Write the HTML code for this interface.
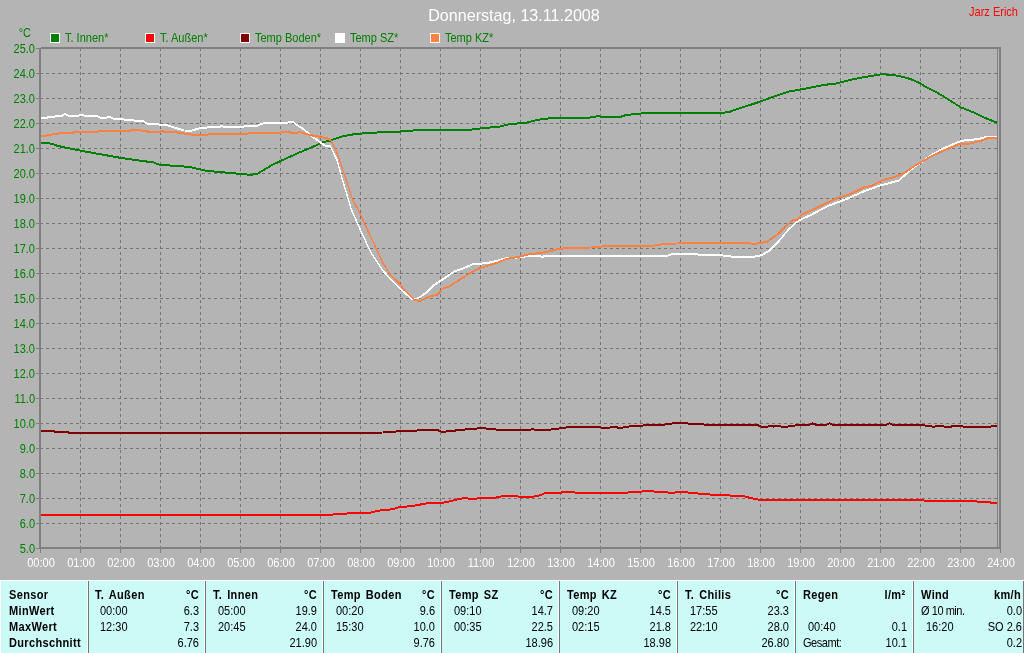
<!DOCTYPE html>
<html lang="de"><head><meta charset="utf-8"><title>Donnerstag, 13.11.2008</title>
<style>
html,body{margin:0;padding:0;}
body{width:1024px;height:653px;overflow:hidden;background:#b4b4b4;position:relative;font-family:"Liberation Sans",Arial,sans-serif;font-size:11px;line-height:13px;}
#chart{position:absolute;left:0;top:0;}
.t{position:absolute;white-space:nowrap;transform:scaleY(1.125);transform-origin:0 10px;}
.title{transform:none;left:0;width:1028px;text-align:center;top:5.5px;font-size:16.1px;line-height:19px;color:#fff;}
.author{right:6px;top:6px;color:#ff0000;}
.yl{left:0;width:35px;text-align:right;color:#008000;}
.xl{width:40px;text-align:center;color:#fff;top:557px;}
.lg{color:#008000;top:32px;}
.lb{position:absolute;top:33px;width:8px;height:8px;border:1px solid #fff;}
#tbl{position:absolute;left:0;top:580px;width:1024px;height:73px;background:#ccfaf6;border-top:1px solid #fff;border-left:1px solid #fff;box-sizing:border-box;overflow:hidden;}
.sep{position:absolute;top:0;width:1px;height:73px;background:#747474;border-left:1px solid #f4ffff;}
.c{position:absolute;white-space:nowrap;color:#000;transform:scaleY(1.125);transform-origin:0 10px;}
.b{font-weight:bold;letter-spacing:0.35px;word-spacing:1.5px;}
.r{text-align:right;}
</style></head><body>

<svg id="chart" width="1024" height="580" viewBox="0 0 1024 580">
<path d="M80.5 49V547M120.5 49V547M160.5 49V547M200.5 49V547M240.5 49V547M280.5 49V547M320.5 49V547M360.5 49V547M400.5 49V547M440.5 49V547M480.5 49V547M520.5 49V547M560.5 49V547M600.5 49V547M640.5 49V547M680.5 49V547M720.5 49V547M760.5 49V547M800.5 49V547M840.5 49V547M880.5 49V547M920.5 49V547M960.5 49V547M41 73.5H997M41 98.5H997M41 123.5H997M41 148.5H997M41 173.5H997M41 198.5H997M41 223.5H997M41 248.5H997M41 273.5H997M41 298.5H997M41 323.5H997M41 348.5H997M41 373.5H997M41 398.5H997M41 423.5H997M41 448.5H997M41 473.5H997M41 498.5H997M41 523.5H997" stroke="#747474" stroke-width="1" stroke-dasharray="3 3" stroke-dashoffset="1" fill="none" shape-rendering="crispEdges"/>
<path d="M40.5 549V553M80.5 549V553M120.5 549V553M160.5 549V553M200.5 549V553M240.5 549V553M280.5 549V553M320.5 549V553M360.5 549V553M400.5 549V553M440.5 549V553M480.5 549V553M520.5 549V553M560.5 549V553M600.5 549V553M640.5 549V553M680.5 549V553M720.5 549V553M760.5 549V553M800.5 549V553M840.5 549V553M880.5 549V553M920.5 549V553M960.5 549V553M1000.5 549V553M36 48.5H41M36 73.5H41M36 98.5H41M36 123.5H41M36 148.5H41M36 173.5H41M36 198.5H41M36 223.5H41M36 248.5H41M36 273.5H41M36 298.5H41M36 323.5H41M36 348.5H41M36 373.5H41M36 398.5H41M36 423.5H41M36 448.5H41M36 473.5H41M36 498.5H41M36 523.5H41M36 548.5H41" stroke="#808080" stroke-width="1" fill="none" shape-rendering="crispEdges"/>
<polyline points="40.0,142.0 51.8,143.2 57.6,145.4 79.2,149.9 122.4,157.7 153.7,162.0 159.6,164.2 189.0,166.4 206.7,170.3 240.0,173.4 245.9,173.8 249.8,174.6 257.6,173.2 269.4,166.0 279.2,161.1 298.8,152.2 318.4,144.0 323.3,141.5 330.2,140.1 342.0,136.0 355.7,133.4 377.3,132.0 396.9,131.3 416.5,129.7 440.0,129.3 469.4,129.3 483.1,127.7 498.8,126.2 510.6,123.4 524.3,122.6 538.0,119.3 545.9,118.1 557.6,117.5 589.0,117.1 598.8,115.6 601.8,116.6 620.4,116.4 626.3,114.4 640.0,113.3 643.9,112.4 722.4,112.4 730.2,111.1 742.0,107.1 757.6,102.0 777.3,94.8 789.0,91.1 808.6,87.5 824.3,84.4 835.8,83.0 847.5,80.1 859.3,77.5 871.0,75.6 881.8,73.6 898.5,75.2 910.3,78.5 920.0,82.6 926.0,86.6 935.8,91.3 945.6,97.3 961.3,107.1 975.0,112.4 984.8,117.3 998.0,122.6" fill="none" stroke="#008000" stroke-width="1" shape-rendering="crispEdges"/><polyline points="40.0,143.0 51.8,144.2 57.6,146.4 79.2,150.9 122.4,158.7 153.7,163.0 159.6,165.2 189.0,167.4 206.7,171.3 240.0,174.4 245.9,174.8 249.8,175.6 257.6,174.2 269.4,167.0 279.2,162.1 298.8,153.2 318.4,145.0 323.3,142.5 330.2,141.1 342.0,137.0 355.7,134.4 377.3,133.0 396.9,132.3 416.5,130.7 440.0,130.3 469.4,130.3 483.1,128.7 498.8,127.2 510.6,124.4 524.3,123.6 538.0,120.3 545.9,119.1 557.6,118.5 589.0,118.1 598.8,116.6 601.8,117.6 620.4,117.4 626.3,115.4 640.0,114.3 643.9,113.4 722.4,113.4 730.2,112.1 742.0,108.1 757.6,103.0 777.3,95.8 789.0,92.1 808.6,88.5 824.3,85.4 835.8,84.0 847.5,81.1 859.3,78.5 871.0,76.6 881.8,74.6 898.5,76.2 910.3,79.5 920.0,83.6 926.0,87.6 935.8,92.3 945.6,98.3 961.3,108.1 975.0,113.4 984.8,118.3 998.0,123.6" fill="none" stroke="#008000" stroke-width="1" shape-rendering="crispEdges"/>
<polyline points="40.0,514.8 330.0,514.8 333.8,513.9 345.0,513.9 349.0,512.3 369.4,512.3 381.9,509.5 391.3,508.9 400.6,506.4 410.0,505.8 428.8,502.6 444.4,502.0 464.7,497.3 469.4,498.3 494.4,497.3 503.8,495.4 516.3,495.4 519.4,496.7 530.3,496.7 539.7,494.8 545.9,492.3 560.0,492.3 566.3,491.1 572.5,491.1 575.6,492.3 625.6,492.3 631.9,491.4 641.3,491.1 645.9,490.1 652.2,490.1 655.3,491.4 666.3,491.4 669.4,492.6 680.0,491.4 686.3,491.4 689.4,492.3 708.1,493.9 723.8,494.8 742.5,495.4 751.9,497.9 761.3,499.5 922.2,499.5 925.3,500.4 975.3,500.4 978.4,501.4 989.4,501.7 992.5,502.6 998.0,502.6" fill="none" stroke="#ff0000" stroke-width="1" shape-rendering="crispEdges"/><polyline points="40.0,515.8 330.0,515.8 333.8,514.9 345.0,514.9 349.0,513.3 369.4,513.3 381.9,510.5 391.3,509.9 400.6,507.4 410.0,506.8 428.8,503.6 444.4,503.0 464.7,498.3 469.4,499.3 494.4,498.3 503.8,496.4 516.3,496.4 519.4,497.7 530.3,497.7 539.7,495.8 545.9,493.3 560.0,493.3 566.3,492.1 572.5,492.1 575.6,493.3 625.6,493.3 631.9,492.4 641.3,492.1 645.9,491.1 652.2,491.1 655.3,492.4 666.3,492.4 669.4,493.6 680.0,492.4 686.3,492.4 689.4,493.3 708.1,494.9 723.8,495.8 742.5,496.4 751.9,498.9 761.3,500.5 922.2,500.5 925.3,501.4 975.3,501.4 978.4,502.4 989.4,502.7 992.5,503.6 998.0,503.6" fill="none" stroke="#ff0000" stroke-width="1" shape-rendering="crispEdges"/>
<polyline points="40.0,430.4 54.0,430.4 54.0,431.7 68.0,431.7 68.0,432.6 360.0,432.3 383.4,432.0 406.9,430.1 438.0,429.8 441.9,431.4 466.3,428.9 481.9,427.6 500.6,429.5 530.3,429.2 532.5,428.3 535.0,429.5 547.5,429.5 566.3,427.0 597.5,426.4 603.8,427.6 610.0,427.0 614.7,426.1 619.4,427.6 635.0,425.1 660.0,424.8 672.5,422.9 680.0,422.9 701.9,423.2 705.0,424.2 756.6,424.2 761.3,426.1 767.5,426.1 770.6,425.1 773.8,426.1 778.4,425.1 781.6,426.1 787.8,426.1 798.8,424.5 809.7,424.2 812.8,422.9 815.9,424.2 826.9,424.2 829.4,422.9 832.5,424.2 886.3,424.2 889.4,422.9 892.5,424.2 922.2,424.2 926.9,425.4 930.0,425.4 933.1,426.4 937.8,425.4 942.5,425.4 945.6,426.4 950.3,426.4 953.4,425.4 961.3,425.4 964.4,426.4 989.4,426.4 994.0,425.4 998.0,425.4" fill="none" stroke="#800000" stroke-width="1" shape-rendering="crispEdges"/><polyline points="40.0,431.4 54.0,431.4 54.0,432.7 68.0,432.7 68.0,433.6 360.0,433.3 383.4,433.0 406.9,431.1 438.0,430.8 441.9,432.4 466.3,429.9 481.9,428.6 500.6,430.5 530.3,430.2 532.5,429.3 535.0,430.5 547.5,430.5 566.3,428.0 597.5,427.4 603.8,428.6 610.0,428.0 614.7,427.1 619.4,428.6 635.0,426.1 660.0,425.8 672.5,423.9 680.0,423.9 701.9,424.2 705.0,425.2 756.6,425.2 761.3,427.1 767.5,427.1 770.6,426.1 773.8,427.1 778.4,426.1 781.6,427.1 787.8,427.1 798.8,425.5 809.7,425.2 812.8,423.9 815.9,425.2 826.9,425.2 829.4,423.9 832.5,425.2 886.3,425.2 889.4,423.9 892.5,425.2 922.2,425.2 926.9,426.4 930.0,426.4 933.1,427.4 937.8,426.4 942.5,426.4 945.6,427.4 950.3,427.4 953.4,426.4 961.3,426.4 964.4,427.4 989.4,427.4 994.0,426.4 998.0,426.4" fill="none" stroke="#800000" stroke-width="1" shape-rendering="crispEdges"/>
<polyline points="40.0,117.5 47.0,117.5 48.5,116.0 55.0,116.0 56.0,115.4 62.0,115.4 65.0,113.5 69.0,115.4 78.0,115.4 80.0,114.5 83.0,114.5 85.0,115.6 97.0,115.6 100.0,117.0 107.0,117.0 109.0,116.0 113.0,118.0 115.0,118.5 122.0,118.5 125.0,119.4 132.0,119.4 135.0,120.4 143.0,120.4 147.0,123.2 157.0,123.2 160.0,124.4 166.0,124.4 168.0,125.1 184.0,130.0 192.0,130.1 199.0,127.9 208.0,126.9 212.0,126.0 220.5,126.0 222.0,125.4 223.5,126.4 243.0,126.4 245.5,125.4 257.0,125.4 264.0,122.5 287.0,122.5 288.6,121.4 293.3,121.4 295.6,123.6 303.4,128.6 311.2,135.3 319.0,140.8 323.8,144.3 325.3,145.3 330.0,145.3 331.6,148.5 334.7,154.8 337.0,159.5 342.0,177.7 345.5,189.5 351.4,209.1 359.2,226.8 371.0,252.2 382.7,269.9 390.6,278.7 400.4,288.5 412.2,298.9 418.0,297.9 425.9,292.4 432.7,285.6 441.6,279.7 454.3,270.9 463.1,267.9 472.0,264.0 486.7,262.6 496.5,260.5 504.3,258.1 520.0,256.8 525.9,255.8 539.6,255.2 541.6,256.2 547.5,255.6 667.0,255.4 672.0,253.6 696.5,253.4 699.4,254.4 720.0,254.6 733.7,256.4 753.3,256.4 761.2,254.8 769.0,250.5 778.8,240.7 788.6,228.9 798.4,220.1 810.2,214.8 818.0,210.7 829.8,204.8 845.5,198.9 865.1,190.3 880.8,184.8 898.5,180.2 906.4,173.2 914.2,166.4 920.0,162.8 929.9,155.6 941.6,148.7 961.3,140.3 978.9,138.5 985.8,136.4 998.0,136.4" fill="none" stroke="#ffffff" stroke-width="1" shape-rendering="crispEdges"/><polyline points="40.0,118.5 47.0,118.5 48.5,117.0 55.0,117.0 56.0,116.4 62.0,116.4 65.0,114.5 69.0,116.4 78.0,116.4 80.0,115.5 83.0,115.5 85.0,116.6 97.0,116.6 100.0,118.0 107.0,118.0 109.0,117.0 113.0,119.0 115.0,119.5 122.0,119.5 125.0,120.4 132.0,120.4 135.0,121.4 143.0,121.4 147.0,124.2 157.0,124.2 160.0,125.4 166.0,125.4 168.0,126.1 184.0,131.0 192.0,131.1 199.0,128.9 208.0,127.9 212.0,127.0 220.5,127.0 222.0,126.4 223.5,127.4 243.0,127.4 245.5,126.4 257.0,126.4 264.0,123.5 287.0,123.5 288.6,122.4 293.3,122.4 295.6,124.6 303.4,129.6 311.2,136.3 319.0,141.8 323.8,145.3 325.3,146.3 330.0,146.3 331.6,149.5 334.7,155.8 337.0,160.5 342.0,178.7 345.5,190.5 351.4,210.1 359.2,227.8 371.0,253.2 382.7,270.9 390.6,279.7 400.4,289.5 412.2,299.9 418.0,298.9 425.9,293.4 432.7,286.6 441.6,280.7 454.3,271.9 463.1,268.9 472.0,265.0 486.7,263.6 496.5,261.5 504.3,259.1 520.0,257.8 525.9,256.8 539.6,256.2 541.6,257.2 547.5,256.6 667.0,256.4 672.0,254.6 696.5,254.4 699.4,255.4 720.0,255.6 733.7,257.4 753.3,257.4 761.2,255.8 769.0,251.5 778.8,241.7 788.6,229.9 798.4,221.1 810.2,215.8 818.0,211.7 829.8,205.8 845.5,199.9 865.1,191.3 880.8,185.8 898.5,181.2 906.4,174.2 914.2,167.4 920.0,163.8 929.9,156.6 941.6,149.7 961.3,141.3 978.9,139.5 985.8,137.4 998.0,137.4" fill="none" stroke="#ffffff" stroke-width="1" shape-rendering="crispEdges"/>
<polyline points="40.0,135.4 46.0,135.4 48.0,134.4 51.0,134.4 53.0,133.5 57.5,133.5 59.0,132.5 72.5,132.5 75.0,131.3 97.5,131.3 99.0,130.4 130.0,130.4 131.5,129.4 140.0,129.4 141.5,130.3 146.0,130.3 148.0,131.3 160.0,131.3 162.0,130.1 164.0,131.3 168.0,131.3 176.5,131.3 178.0,132.5 183.0,132.5 184.5,133.5 190.0,133.5 191.5,134.4 207.5,134.4 209.0,133.2 247.5,133.2 249.0,132.2 280.5,132.2 282.0,131.4 290.0,131.4 291.0,132.5 297.5,132.5 298.5,131.3 300.5,131.3 301.5,132.4 303.5,132.4 305.0,133.3 307.0,133.3 309.0,134.5 311.0,134.5 314.0,135.5 317.5,135.5 319.5,136.5 321.5,136.5 324.0,137.6 327.0,137.6 329.0,139.0 330.8,140.0 334.7,147.0 338.6,156.4 345.9,178.7 349.4,189.5 353.7,201.3 359.2,211.1 369.0,232.6 382.7,262.0 391.6,275.8 398.4,281.7 404.3,289.5 414.1,299.3 420.0,300.3 429.8,296.0 437.6,294.0 443.5,287.5 448.4,286.6 457.3,280.7 472.9,270.9 482.7,266.6 496.5,262.6 506.3,258.5 520.0,256.1 529.8,253.6 539.6,252.6 551.4,250.3 557.3,248.7 569.0,247.3 590.6,247.0 604.3,245.8 651.4,245.6 665.1,243.4 676.9,243.0 680.8,242.2 720.0,242.2 749.4,242.4 753.3,243.6 767.1,241.3 778.8,232.8 786.7,225.0 793.5,219.1 797.5,219.1 802.4,213.8 814.1,208.7 827.8,201.9 839.6,196.6 849.4,194.0 865.1,186.2 871.0,185.8 882.7,179.7 894.6,176.6 904.4,172.6 912.2,167.1 916.2,164.4 931.8,155.6 943.6,150.1 959.3,143.4 969.1,143.2 980.9,140.3 986.7,137.9 998.0,137.3" fill="none" stroke="#ff8040" stroke-width="1" shape-rendering="crispEdges"/><polyline points="40.0,136.4 46.0,136.4 48.0,135.4 51.0,135.4 53.0,134.5 57.5,134.5 59.0,133.5 72.5,133.5 75.0,132.3 97.5,132.3 99.0,131.4 130.0,131.4 131.5,130.4 140.0,130.4 141.5,131.3 146.0,131.3 148.0,132.3 160.0,132.3 162.0,131.1 164.0,132.3 168.0,132.3 176.5,132.3 178.0,133.5 183.0,133.5 184.5,134.5 190.0,134.5 191.5,135.4 207.5,135.4 209.0,134.2 247.5,134.2 249.0,133.2 280.5,133.2 282.0,132.4 290.0,132.4 291.0,133.5 297.5,133.5 298.5,132.3 300.5,132.3 301.5,133.4 303.5,133.4 305.0,134.3 307.0,134.3 309.0,135.5 311.0,135.5 314.0,136.5 317.5,136.5 319.5,137.5 321.5,137.5 324.0,138.6 327.0,138.6 329.0,140.0 330.8,141.0 334.7,148.0 338.6,157.4 345.9,179.7 349.4,190.5 353.7,202.3 359.2,212.1 369.0,233.6 382.7,263.0 391.6,276.8 398.4,282.7 404.3,290.5 414.1,300.3 420.0,301.3 429.8,297.0 437.6,295.0 443.5,288.5 448.4,287.6 457.3,281.7 472.9,271.9 482.7,267.6 496.5,263.6 506.3,259.5 520.0,257.1 529.8,254.6 539.6,253.6 551.4,251.3 557.3,249.7 569.0,248.3 590.6,248.0 604.3,246.8 651.4,246.6 665.1,244.4 676.9,244.0 680.8,243.2 720.0,243.2 749.4,243.4 753.3,244.6 767.1,242.3 778.8,233.8 786.7,226.0 793.5,220.1 797.5,220.1 802.4,214.8 814.1,209.7 827.8,202.9 839.6,197.6 849.4,195.0 865.1,187.2 871.0,186.8 882.7,180.7 894.6,177.6 904.4,173.6 912.2,168.1 916.2,165.4 931.8,156.6 943.6,151.1 959.3,144.4 969.1,144.2 980.9,141.3 986.7,138.9 998.0,138.3" fill="none" stroke="#ff8040" stroke-width="1" shape-rendering="crispEdges"/>
<path d="M40 48V549M41 48H1001M39 548H1001M1000 47V549" stroke="#808080" stroke-width="2" fill="none" shape-rendering="crispEdges"/>
<path d="M997.5 49V547" stroke="#808080" stroke-width="1" fill="none" shape-rendering="crispEdges"/>
</svg>
<div class="t title">Donnerstag, 13.11.2008</div>
<div class="t author">Jarz Erich</div>
<div class="t yl" style="top:27px;width:31px">°C</div>
<div class="t yl" style="top:43px">25.0</div>
<div class="t yl" style="top:68px">24.0</div>
<div class="t yl" style="top:93px">23.0</div>
<div class="t yl" style="top:118px">22.0</div>
<div class="t yl" style="top:143px">21.0</div>
<div class="t yl" style="top:168px">20.0</div>
<div class="t yl" style="top:193px">19.0</div>
<div class="t yl" style="top:218px">18.0</div>
<div class="t yl" style="top:243px">17.0</div>
<div class="t yl" style="top:268px">16.0</div>
<div class="t yl" style="top:293px">15.0</div>
<div class="t yl" style="top:318px">14.0</div>
<div class="t yl" style="top:343px">13.0</div>
<div class="t yl" style="top:368px">12.0</div>
<div class="t yl" style="top:393px">11.0</div>
<div class="t yl" style="top:418px">10.0</div>
<div class="t yl" style="top:443px">9.0</div>
<div class="t yl" style="top:468px">8.0</div>
<div class="t yl" style="top:493px">7.0</div>
<div class="t yl" style="top:518px">6.0</div>
<div class="t yl" style="top:543px">5.0</div>
<div class="t xl" style="left:21px">00:00</div>
<div class="t xl" style="left:61px">01:00</div>
<div class="t xl" style="left:101px">02:00</div>
<div class="t xl" style="left:141px">03:00</div>
<div class="t xl" style="left:181px">04:00</div>
<div class="t xl" style="left:221px">05:00</div>
<div class="t xl" style="left:261px">06:00</div>
<div class="t xl" style="left:301px">07:00</div>
<div class="t xl" style="left:341px">08:00</div>
<div class="t xl" style="left:381px">09:00</div>
<div class="t xl" style="left:421px">10:00</div>
<div class="t xl" style="left:461px">11:00</div>
<div class="t xl" style="left:501px">12:00</div>
<div class="t xl" style="left:541px">13:00</div>
<div class="t xl" style="left:581px">14:00</div>
<div class="t xl" style="left:621px">15:00</div>
<div class="t xl" style="left:661px">16:00</div>
<div class="t xl" style="left:701px">17:00</div>
<div class="t xl" style="left:741px">18:00</div>
<div class="t xl" style="left:781px">19:00</div>
<div class="t xl" style="left:821px">20:00</div>
<div class="t xl" style="left:861px">21:00</div>
<div class="t xl" style="left:901px">22:00</div>
<div class="t xl" style="left:941px">23:00</div>
<div class="t xl" style="left:981px">24:00</div>
<div class="lb" style="left:50px;background:#008000"></div><div class="t lg" style="left:65px">T. Innen*</div>
<div class="lb" style="left:145px;background:#ff0000"></div><div class="t lg" style="left:160px">T. Außen*</div>
<div class="lb" style="left:240px;background:#800000"></div><div class="t lg" style="left:255px">Temp Boden*</div>
<div class="lb" style="left:335px;background:#ffffff"></div><div class="t lg" style="left:350px">Temp SZ*</div>
<div class="lb" style="left:430px;background:#ff8040"></div><div class="t lg" style="left:445px">Temp KZ*</div>
<div id="tbl">
<div class="c b" style="left:8px;top:8px">Sensor</div>
<div class="c b" style="left:8px;top:24px">MinWert</div>
<div class="c b" style="left:8px;top:40px">MaxWert</div>
<div class="c b" style="left:8px;top:56px">Durchschnitt</div>
<div class="sep" style="left:86px"></div>
<div class="c b" style="left:94px;top:8px">T. Außen</div>
<div class="c b r" style="right:825px;top:8px">°C</div>
<div class="c" style="left:99px;top:24px">00:00</div>
<div class="c r" style="right:825px;top:24px">6.3</div>
<div class="c" style="left:99px;top:40px">12:30</div>
<div class="c r" style="right:825px;top:40px">7.3</div>
<div class="c r" style="right:825px;top:56px">6.76</div>
<div class="sep" style="left:203px"></div>
<div class="c b" style="left:212px;top:8px">T. Innen</div>
<div class="c b r" style="right:707px;top:8px">°C</div>
<div class="c" style="left:217px;top:24px">05:00</div>
<div class="c r" style="right:707px;top:24px">19.9</div>
<div class="c" style="left:217px;top:40px">20:45</div>
<div class="c r" style="right:707px;top:40px">24.0</div>
<div class="c r" style="right:707px;top:56px">21.90</div>
<div class="sep" style="left:321px"></div>
<div class="c b" style="left:330px;top:8px">Temp Boden</div>
<div class="c b r" style="right:589px;top:8px">°C</div>
<div class="c" style="left:335px;top:24px">00:20</div>
<div class="c r" style="right:589px;top:24px">9.6</div>
<div class="c" style="left:335px;top:40px">15:30</div>
<div class="c r" style="right:589px;top:40px">10.0</div>
<div class="c r" style="right:589px;top:56px">9.76</div>
<div class="sep" style="left:439px"></div>
<div class="c b" style="left:448px;top:8px">Temp SZ</div>
<div class="c b r" style="right:471px;top:8px">°C</div>
<div class="c" style="left:453px;top:24px">09:10</div>
<div class="c r" style="right:471px;top:24px">14.7</div>
<div class="c" style="left:453px;top:40px">00:35</div>
<div class="c r" style="right:471px;top:40px">22.5</div>
<div class="c r" style="right:471px;top:56px">18.96</div>
<div class="sep" style="left:557px"></div>
<div class="c b" style="left:566px;top:8px">Temp KZ</div>
<div class="c b r" style="right:353px;top:8px">°C</div>
<div class="c" style="left:571px;top:24px">09:20</div>
<div class="c r" style="right:353px;top:24px">14.5</div>
<div class="c" style="left:571px;top:40px">02:15</div>
<div class="c r" style="right:353px;top:40px">21.8</div>
<div class="c r" style="right:353px;top:56px">18.98</div>
<div class="sep" style="left:675px"></div>
<div class="c b" style="left:684px;top:8px">T. Chilis</div>
<div class="c b r" style="right:235px;top:8px">°C</div>
<div class="c" style="left:689px;top:24px">17:55</div>
<div class="c r" style="right:235px;top:24px">23.3</div>
<div class="c" style="left:689px;top:40px">22:10</div>
<div class="c r" style="right:235px;top:40px">28.0</div>
<div class="c r" style="right:235px;top:56px">26.80</div>
<div class="sep" style="left:793px"></div>
<div class="c b" style="left:802px;top:8px">Regen</div>
<div class="c b r" style="right:118.5px;top:8px">l/m²</div>
<div class="c" style="left:807px;top:40px">00:40</div>
<div class="c r" style="right:117px;top:40px">0.1</div>
<div class="c" style="letter-spacing:-0.45px;left:802px;top:56px">Gesamt:</div>
<div class="c r" style="right:117px;top:56px">10.1</div>
<div class="sep" style="left:911px"></div>
<div class="c b" style="left:920px;top:8px">Wind</div>
<div class="c b r" style="right:3px;top:8px">km/h</div>
<div class="c" style="letter-spacing:-0.45px;left:920px;top:24px">Ø 10 min.</div>
<div class="c r" style="right:2px;top:24px">0.0</div>
<div class="c" style="left:925px;top:40px">16:20</div>
<div class="c r" style="right:2px;top:40px">SO 2.6</div>
<div class="c r" style="right:2px;top:56px">0.2</div>
<div class="sep" style="left:1022px;border:0"></div>
</div>
</body></html>
